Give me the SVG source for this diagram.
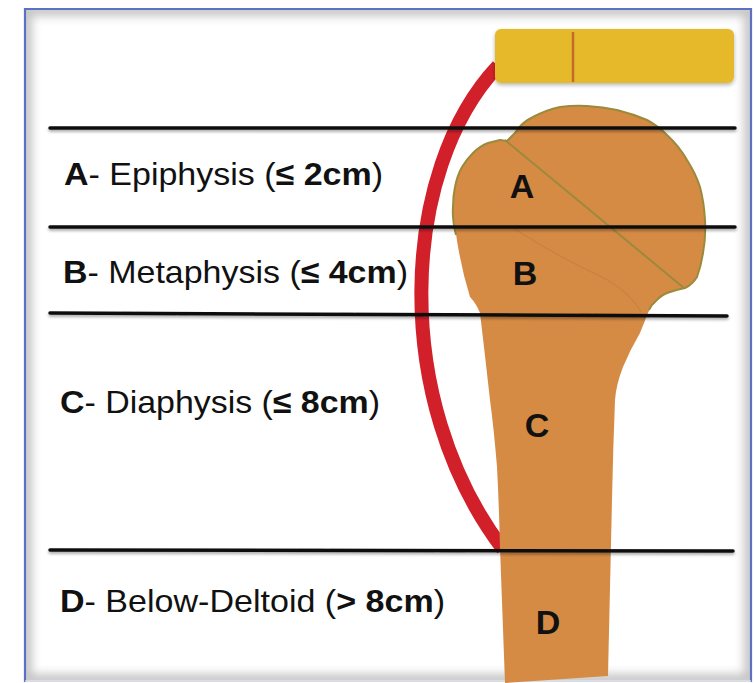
<svg xmlns="http://www.w3.org/2000/svg" width="754" height="683" viewBox="0 0 754 683">
  <defs>
    <style>
      .lvl { stroke: #111; stroke-width: 3.5; stroke-linecap: round; fill: none; }
      .cap { font-family: "Liberation Sans", Arial, Helvetica, sans-serif; font-size: 32px; fill: #111; }
      .b { font-weight: bold; }
      .zone { font-family: "Liberation Sans", Arial, Helvetica, sans-serif; font-size: 34px; font-weight: bold; fill: #111; text-anchor: middle; }
      .bone { fill: #D68B45; }
      .rim { fill: none; stroke: #9A8A3C; stroke-width: 2; stroke-linejoin: round; }
    </style>
    <filter id="lineShadow" filterUnits="userSpaceOnUse" x="30" y="100" width="720" height="470">
      <feGaussianBlur in="SourceAlpha" stdDeviation="1.5"/>
      <feOffset dy="2" result="b"/>
      <feComponentTransfer><feFuncA type="linear" slope="0.35"/></feComponentTransfer>
      <feMerge><feMergeNode/><feMergeNode in="SourceGraphic"/></feMerge>
    </filter>
    <filter id="soft" filterUnits="userSpaceOnUse" x="0" y="0" width="754" height="683">
      <feGaussianBlur stdDeviation="5"/>
    </filter>
    <filter id="barShadow" filterUnits="userSpaceOnUse" x="480" y="15" width="270" height="85">
      <feGaussianBlur in="SourceAlpha" stdDeviation="2"/>
      <feOffset dy="2"/>
      <feComponentTransfer><feFuncA type="linear" slope="0.3"/></feComponentTransfer>
      <feMerge><feMergeNode/><feMergeNode in="SourceGraphic"/></feMerge>
    </filter>
    <clipPath id="inner">
      <rect x="26" y="10" width="724" height="670"/>
    </clipPath>
  </defs>

  <rect x="0" y="0" width="754" height="683" fill="#ffffff"/>

  <!-- panel frame with soft inner shading -->
  <g id="frame">
    <rect x="26" y="10" width="724" height="670" fill="#ffffff"/>
    <g clip-path="url(#inner)">
      <rect x="26" y="10" width="724" height="670" fill="none" stroke="#c4c4c4" stroke-width="12" filter="url(#soft)"/>
    </g>
    <path d="M25 682 V9 H751 V682" fill="none" stroke="#5E70C2" stroke-width="2.2"/>
    <line x1="25" y1="681" x2="751" y2="681" stroke="#cfd2dd" stroke-width="1.5"/>
  </g>

  <!-- plate / fixation arc -->
  <g id="arc">
    <path d="M498 66 C400 170 390 400 503 549" fill="none" stroke="#D2202B" stroke-width="14"/>
  </g>

  <!-- humerus -->
  <g id="humerus">
    <path class="bone" d="M488 143 L500 140 L507 141 L515 133 Q522 122 533 117 Q546 110 560 107 Q575 105 587 106 Q603 107 617 110 Q633 114 647 120 Q658 126 667 135 Q679 146 687 160 Q696 174 700 187 Q704 202 705 220 Q706 237 703 253 Q701 266 697 277 Q692 285 685 288 Q675 290 667 293 Q660 296 656 301 Q651 305 648 313 Q644 323 640 333 Q630 350 623 367 Q616 385 615 400 Q613 450 612 500 L608 676 L505 683 L500 548 Q499 505 497 467 Q494 430 490 400 Q485 355 480 313 Q476 303 470 297 Q460 265 455 227 Q452 216 453 207 Q453 196 455 187 Q457 176 462 167 Q467 159 473 153 Q480 146 488 143 Z"/>
    <path class="rim" d="M456 235 Q452 218 453 207 Q453 196 455 187 Q457 176 462 167 Q467 159 473 153 Q480 146 488 143 L500 140 L507 141 L515 133 Q522 122 533 117 Q546 110 560 107 Q575 105 587 106 Q603 107 617 110 Q633 114 647 120 Q658 126 667 135 Q679 146 687 160 Q696 174 700 187 Q704 202 705 220 Q706 237 703 253 Q701 266 697 277 Q692 285 685 288 Q675 290 667 293 Q660 296 656 301 Q651 305 649 310"/>
    <line class="rim" x1="505" y1="140" x2="684" y2="288"/>
    <path d="M510 226 Q560 258 600 276 Q628 290 641 312" fill="none" stroke="#8a5a2a" stroke-width="1.2" opacity="0.18"/>
  </g>

  <!-- level lines -->
  <g id="levels" filter="url(#lineShadow)">
    <line class="lvl" x1="50" y1="128" x2="735" y2="128"/>
    <line class="lvl" x1="50" y1="227" x2="735" y2="227"/>
    <line class="lvl" x1="50" y1="313" x2="727" y2="316"/>
    <line class="lvl" x1="50" y1="550" x2="733" y2="551"/>
  </g>

  <!-- fixation bar -->
  <g id="bar" filter="url(#barShadow)">
    <rect x="495" y="29" width="239" height="54" rx="6" fill="#E5B92A"/>
    <line x1="573" y1="32" x2="573" y2="82" stroke="#C46A2A" stroke-width="2.5"/>
  </g>

  <!-- zone captions -->
  <g id="caption-a">
    <text class="cap" x="64" y="185" textLength="319" lengthAdjust="spacingAndGlyphs"><tspan class="b">A</tspan>- Epiphysis (<tspan class="b">≤ 2cm</tspan>)</text>
  </g>
  <g id="caption-b">
    <text class="cap" x="63" y="283" textLength="345" lengthAdjust="spacingAndGlyphs"><tspan class="b">B</tspan>- Metaphysis (<tspan class="b">≤ 4cm</tspan>)</text>
  </g>
  <g id="caption-c">
    <text class="cap" x="60" y="413" textLength="320" lengthAdjust="spacingAndGlyphs"><tspan class="b">C</tspan>- Diaphysis (<tspan class="b">≤ 8cm</tspan>)</text>
  </g>
  <g id="caption-d">
    <text class="cap" x="60" y="612" textLength="385" lengthAdjust="spacingAndGlyphs"><tspan class="b">D</tspan>- Below-Deltoid (<tspan class="b">&gt; 8cm</tspan>)</text>
  </g>

  <!-- zone letters on the bone -->
  <g id="zone-letters">
    <text class="zone" x="522" y="198">A</text>
    <text class="zone" x="525" y="285">B</text>
    <text class="zone" x="537" y="437">C</text>
    <text class="zone" x="548" y="634">D</text>
  </g>
</svg>
